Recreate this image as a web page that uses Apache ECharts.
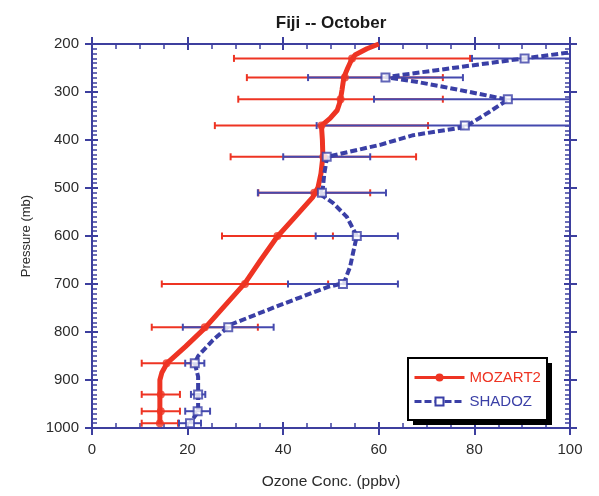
<!DOCTYPE html>
<html>
<head>
<meta charset="utf-8">
<script src="https://cdn.jsdelivr.net/npm/echarts@6/dist/echarts.min.js"></script>
<style>
  html, body { margin: 0; padding: 0; background: #fff; }
  #chart { width: 599px; height: 496px; }
</style>
</head>
<body>
<div id="chart"></div>
<script>
// Ozone profile over Fiji in October: MOZART2 model vs SHADOZ ozonesondes.

// Levels (mb) where means and one-sigma bars are given
const pressureLevels = [230, 270, 315, 370, 435, 510, 600, 700, 790, 865, 930, 965, 990];

// MOZART2 level means and spread (ppbv)
const mozartMean = [54.4, 52.9, 52.0, 48.0, 48.4, 46.5, 38.8, 32.0, 23.6, 15.6, 14.4, 14.4, 14.2];
const mozartErr  = [24.7, 20.5, 21.4, 22.3, 19.4, 11.7, 11.6, 17.4, 11.1, 5.2, 4.0, 4.0, 3.8];

// SHADOZ level means and spread (ppbv)
const shadozMean = [90.5, 61.4, 87.0, 78.0, 49.1, 48.1, 55.4, 52.5, 28.5, 21.5, 22.2, 22.1, 20.5];
const shadozErr  = [11.0, 16.2, 28.0, 31.0, 9.1, 13.4, 8.6, 11.5, 9.5, 2.0, 1.5, 2.6, 2.3];

// MOZART2 continuous profile
const mozartProfileP = [200, 210, 223, 235, 250, 269, 296, 320, 338, 355, 370, 400, 435, 470, 498, 519, 560, 602, 650, 698, 745, 792, 830, 865, 885, 900, 930, 966, 992];
const mozartProfileX = [60.0, 57.5, 55.0, 54.2, 53.5, 52.7, 52.3, 51.9, 51.3, 49.8, 48.0, 48.2, 48.3, 47.9, 47.3, 46.2, 42.5, 38.7, 35.3, 32.0, 27.8, 23.6, 19.6, 15.7, 14.6, 14.2, 14.2, 14.2, 14.2];

// SHADOZ continuous profile
const shadozProfileP = [218, 233, 254, 269, 278, 289, 303, 316, 341, 373, 390, 410, 435, 470, 500, 511, 531, 560, 600, 636, 664, 698, 706, 744, 785, 817, 850, 865, 893, 930, 966, 990];
const shadozProfileX = [99.6, 88.2, 72.5, 61.4, 67.5, 73.4, 80.5, 87.0, 83.2, 78.0, 67.2, 60.3, 49.2, 48.6, 48.3, 47.5, 50.4, 53.3, 55.4, 54.6, 54.0, 52.7, 49.4, 39.3, 28.9, 25.3, 22.2, 21.5, 22.2, 22.2, 22.2, 20.5];

// Axis ranges and ticks
const xMin = 0, xMax = 100, xStep = 20;
const pMin = 200, pMax = 1000, pStep = 100;

const RED = '#ee3423';
const BLUE = '#3a3fa6';
const BLUE_BAR = '#4449ae';
const AXIS = '#3d3f9e';
const TEXT = '#2b2b2b';
const FONT = 'Liberation Sans, Arial, Helvetica, sans-serif';

function toPairs(xs, ys) { return xs.map((x, i) => [x, ys[i]]); }
function barRows(means, errs) { return means.map((m, i) => [m, pressureLevels[i], errs[i]]); }

function makeX(position, inside, labels) {
  return {
    type: 'value', position, min: xMin, max: xMax, interval: xStep,
    splitLine: { show: false },
    axisLine: { show: inside, onZero: false, lineStyle: { color: AXIS, width: 2 } },
    axisTick: { show: true, inside, length: inside ? 6 : 7, lineStyle: { color: AXIS, width: 2 } },
    minorTick: { show: inside, splitNumber: 4, length: 5, lineStyle: { color: AXIS, width: 1.5 } },
    axisLabel: { show: labels, margin: 14, fontSize: 15, color: TEXT, fontFamily: FONT },
    name: labels ? 'Ozone Conc. (ppbv)' : '',
    nameLocation: 'middle', nameGap: 46,
    nameTextStyle: { fontSize: 15.5, color: TEXT, fontFamily: FONT }
  };
}
function makeY(position, inside, labels) {
  return {
    type: 'value', position, inverse: true, min: pMin, max: pMax, interval: pStep,
    splitLine: { show: false },
    axisLine: { show: inside, onZero: false, lineStyle: { color: AXIS, width: 2 } },
    axisTick: { show: true, inside, length: inside ? 6 : 7, lineStyle: { color: AXIS, width: 2 } },
    minorTick: { show: inside, splitNumber: 10, length: 5, lineStyle: { color: AXIS, width: 1.5 } },
    axisLabel: { show: labels, margin: 13, fontSize: 15, color: TEXT, fontFamily: FONT,
                 formatter: v => String(v) },
    name: labels ? 'Pressure (mb)' : '',
    nameLocation: 'middle', nameGap: 59, nameRotate: 90,
    nameTextStyle: { fontSize: 13, color: TEXT, fontFamily: FONT }
  };
}

// Horizontal error bars with end caps, clipped at the x range
function errorBarSeries(rows, color, z) {
  return {
    type: 'custom', z, silent: true,
    data: rows,
    encode: { x: 0, y: 1 },
    renderItem: function (params, api) {
      const c = api.value(0), p = api.value(1), e = api.value(2);
      const lo = Math.max(c - e, xMin), hi = Math.min(c + e, xMax);
      const a = api.coord([lo, p]), b = api.coord([hi, p]);
      const style = { stroke: color, lineWidth: 2, fill: null };
      const kids = [{ type: 'line', shape: { x1: a[0], y1: a[1], x2: b[0], y2: b[1] }, style }];
      const cap = 3.5;
      if (c - e >= xMin) kids.push({ type: 'line', shape: { x1: a[0], y1: a[1] - cap, x2: a[0], y2: a[1] + cap }, style });
      if (c + e <= xMax) kids.push({ type: 'line', shape: { x1: b[0], y1: b[1] - cap, x2: b[0], y2: b[1] + cap }, style });
      return { type: 'group', children: kids };
    }
  };
}

const chart = echarts.init(document.getElementById('chart'), null, { renderer: 'canvas' });
chart.setOption({
  animation: false,
  backgroundColor: '#ffffff',
  title: {
    text: 'Fiji -- October', left: 326, top: 10, textAlign: 'center',
    textStyle: { fontSize: 17, fontWeight: 'bold', color: '#1a1a1a', fontFamily: FONT }
  },
  grid: { left: 92, right: 29, top: 44, bottom: 68 },
  xAxis: [makeX('bottom', true, true), makeX('bottom', false, false), makeX('top', true, false), makeX('top', false, false)],
  yAxis: [makeY('left', true, true), makeY('left', false, false), makeY('right', true, false), makeY('right', false, false)],
  // Legend frame with a solid drop shadow
  graphic: [
    { type: 'rect', z: 20, shape: { x: 413, y: 363, width: 139, height: 62 }, style: { fill: '#000000' } },
    { type: 'rect', z: 21, shape: { x: 408, y: 358, width: 139, height: 62 }, style: { fill: '#ffffff', stroke: '#000000', lineWidth: 2 } }
  ],
  legend: {
    z: 30,
    orient: 'vertical', left: 413, top: 370,
    padding: 0, itemGap: 9, itemWidth: 50, itemHeight: 10,
    textStyle: { fontSize: 15, fontFamily: FONT },
    data: [
      { name: 'MOZART2', textStyle: { color: RED }, lineStyle: { width: 3 } },
      { name: 'SHADOZ', textStyle: { color: BLUE }, lineStyle: { width: 3 } }
    ]
  },
  series: [
    errorBarSeries(barRows(mozartMean, mozartErr), RED, 2),
    errorBarSeries(barRows(shadozMean, shadozErr), BLUE_BAR, 3),
    {
      name: 'MOZART2', type: 'line', z: 4,
      data: toPairs(mozartProfileX, mozartProfileP),
      symbol: 'circle', symbolSize: 8, showSymbol: false,
      itemStyle: { color: RED },
      lineStyle: { color: RED, width: 5 }
    },
    {
      name: 'SHADOZ', type: 'line', z: 5,
      data: toPairs(shadozProfileX, shadozProfileP),
      symbol: 'emptyRect', symbolSize: 8, showSymbol: false,
      itemStyle: { color: BLUE, borderWidth: 2 },
      lineStyle: { color: BLUE, width: 4, type: [7, 3] }
    },
    {
      name: 'MOZART2 levels', type: 'scatter', z: 6, silent: true,
      data: toPairs(mozartMean, pressureLevels),
      symbol: 'circle', symbolSize: 8,
      itemStyle: { color: RED }
    },
    {
      name: 'SHADOZ levels', type: 'scatter', z: 6, silent: true,
      data: toPairs(shadozMean, pressureLevels),
      symbol: 'emptyRect', symbolSize: 8,
      itemStyle: { color: BLUE, borderWidth: 2 }
    }
  ]
});
</script>
</body>
</html>
